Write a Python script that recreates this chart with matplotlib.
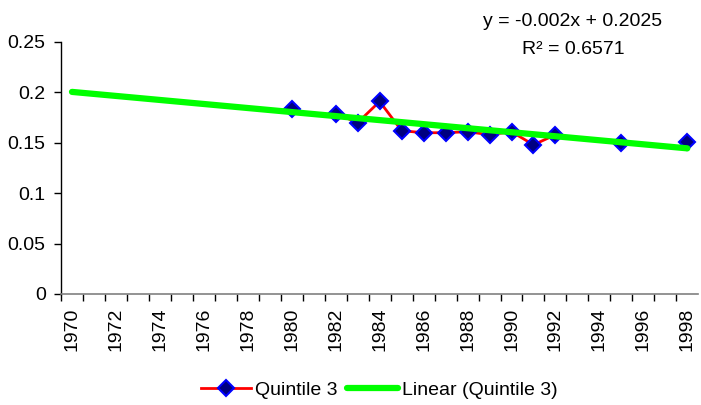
import matplotlib
matplotlib.use("Agg")
import matplotlib.pyplot as plt
import numpy as np

plt.rcParams['font.family'] = ['Liberation Sans', 'DejaVu Sans']

# Category axis
years = list(range(1970, 1999))
tick_labels = [str(y) for y in years[::2]]

# Series "Quintile 3" (years without data are gaps)
data_years = [1980, 1982, 1983, 1984, 1985, 1986, 1987, 1988, 1989, 1990, 1991, 1992, 1995, 1998]
quintile3 = [0.184, 0.179, 0.170, 0.191, 0.162, 0.160, 0.160, 0.161, 0.158, 0.161, 0.148, 0.158, 0.150, 0.151]

# Linear trendline as displayed
slope = -0.002
intercept = 0.2025
r2 = 0.6571

fig = plt.figure(figsize=(7.01, 4.05), dpi=100)
ax = fig.add_axes([61/701, 1 - 294/405, (698.3 - 61)/701, (294 - 42)/405])

FS = 14

series = np.full(len(years), np.nan)
for y, v in zip(data_years, quintile3):
    series[years.index(y)] = v

ax.plot(np.arange(len(years)), series, color='#FF0000', lw=2, marker='D', markersize=8.5,
        markerfacecolor='#000080', markeredgecolor='#0000FF', markeredgewidth=1.5,
        label='Quintile 3', zorder=3)

trend_x = np.arange(len(years))
trend_y = slope * (trend_x + 1) + intercept
ax.plot(trend_x, trend_y, color='#00FF00', lw=4.5, solid_capstyle='round',
        label='Linear (Quintile 3)', zorder=4)

ax.set_xlim(-0.5, len(years) - 0.5)
ax.set_ylim(0, 0.25)
ax.set_yticks([0, 0.05, 0.1, 0.15, 0.2, 0.25])
ax.set_yticklabels(['0', '0.05', '0.1', '0.15', '0.2', '0.25'], fontsize=FS)
ax.set_xticks(np.arange(len(years)) - 0.5, minor=False)
ax.set_xticklabels([])
ax.set_xticks(np.arange(0, len(years), 2), minor=True)
ax.set_xticklabels(tick_labels, minor=True, rotation=90, fontsize=FS)
ax.tick_params(axis='x', which='major', direction='out', length=5, width=1, color='black')
ax.tick_params(axis='x', which='minor', length=0, pad=10)
ax.tick_params(axis='y', direction='out', length=5, width=1, pad=6)

for s in ['top', 'right']:
    ax.spines[s].set_visible(False)
ax.spines['left'].set_color('black')
ax.spines['bottom'].set_color('#808080')
ax.spines['left'].set_linewidth(1)
ax.spines['bottom'].set_linewidth(1.2)

fig.text(573/701, 1 - 26/405, 'y = -0.002x + 0.2025', ha='center', va='baseline', fontsize=FS)
fig.text(573/701, 1 - 54/405, 'R² = 0.6571', ha='center', va='baseline', fontsize=FS)

leg = fig.legend(loc='center', bbox_to_anchor=(379/701, 1 - 390/405), ncol=2, frameon=False,
                 fontsize=FS, handlelength=2.6, handletextpad=0.2, columnspacing=0.5,
                 borderpad=0)

fig.savefig('out.png', dpi=100)
